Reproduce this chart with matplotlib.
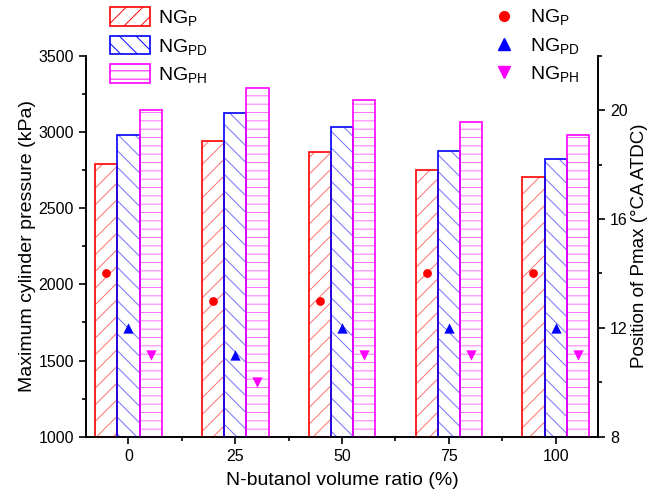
import matplotlib
matplotlib.use('Agg')
import matplotlib.pyplot as plt
from matplotlib.patches import Patch
from matplotlib.lines import Line2D
from matplotlib.ticker import MultipleLocator
import numpy as np

plt.rcParams['font.family'] = ['Liberation Sans', 'DejaVu Sans']
plt.rcParams['mathtext.default'] = 'regular'
plt.rcParams['hatch.linewidth'] = 0.7

# data
ratios = [0, 25, 50, 75, 100]
labels = ['NG$_{P}$', 'NG$_{PD}$', 'NG$_{PH}$']
pmax_p = [2790, 2940, 2865, 2750, 2705]
pmax_pd = [2980, 3125, 3035, 2875, 2820]
pmax_ph = [3145, 3285, 3210, 3065, 2980]
pos_p = [14, 13, 13, 14, 14]
pos_pd = [12, 11, 12, 12, 12]
pos_ph = [11, 10, 11, 11, 11]

edge_colors = ['#ff0000', '#0000ff', '#ff00ff']
hatch_colors = ['#ff7070', '#7070ff', '#ff70ff']
hatches = ['//', '\\\\', '--']
markers = ['o', '^', 'v']
msizes = [40, 55, 55]

fig = plt.figure(figsize=(6.49, 5.01), dpi=100)
ax = fig.add_axes([0.132, 0.128, 0.790, 0.761])
ax2 = ax.twinx()

x = np.array(ratios, dtype=float)
w = 5.2
offsets = [-w, 0, w]
bar_sets = [pmax_p, pmax_pd, pmax_ph]

# hatched fill first, then a solid outline on top
for vals, off, ec, hc, h in zip(bar_sets, offsets, edge_colors, hatch_colors, hatches):
    ax.bar(x + off, np.array(vals) - 1000, width=w, bottom=1000, color='white',
           edgecolor=hc, hatch=h, linewidth=0, zorder=2)
    ax.bar(x + off, np.array(vals) - 1000, width=w, bottom=1000, fill=False,
           edgecolor=ec, linewidth=1.2, zorder=3)

for vals, off, ec, m, s in zip([pos_p, pos_pd, pos_ph], offsets, edge_colors, markers, msizes):
    ax2.scatter(x + off, vals, marker=m, s=s, color=ec, zorder=5, linewidths=0)

ax.set_xlim(-10, 110)
ax.set_ylim(1000, 3500)
ax2.set_ylim(8, 22)
ax.set_xticks(ratios)
ax.xaxis.set_minor_locator(MultipleLocator(12.5))
ax.yaxis.set_major_locator(MultipleLocator(500))
ax.yaxis.set_minor_locator(MultipleLocator(250))
ax2.yaxis.set_major_locator(MultipleLocator(4))
ax2.yaxis.set_minor_locator(MultipleLocator(2))

for a in (ax, ax2):
    a.spines['top'].set_visible(False)
    for sp in a.spines.values():
        sp.set_linewidth(1.2)
    a.tick_params(which='major', direction='out', length=5, width=1.2, labelsize=11.5)
    a.tick_params(which='minor', direction='out', length=3, width=1.2)

ax.set_xlabel('N-butanol volume ratio (%)', fontsize=14, labelpad=6)
ax.set_ylabel('Maximum cylinder pressure (kPa)', fontsize=14, labelpad=2)
ax2.set_ylabel('Position of Pmax (°CA ATDC)', fontsize=13.5, labelpad=2)

bar_handles = [Patch(facecolor='white', edgecolor=ec, hatch=h, linewidth=1.2)
               for ec, h in zip(edge_colors, hatches)]
leg1 = ax2.legend(bar_handles, labels, loc='upper left', bbox_to_anchor=(0.142, 1.02),
                  bbox_transform=fig.transFigure, frameon=False, fontsize=14,
                  handlelength=2.1, handleheight=1.1, handletextpad=0.4, labelspacing=0.38)
ax2.add_artist(leg1)

pt_handles = [Line2D([], [], linestyle='none', marker=m, color=ec, markersize=7 if m == 'o' else 8)
              for ec, m in zip(edge_colors, markers)]
ax2.legend(pt_handles, labels, loc='upper left', bbox_to_anchor=(0.727, 1.02),
           bbox_transform=fig.transFigure, frameon=False, fontsize=14,
           handlelength=1.5, handletextpad=0.6, labelspacing=0.42)

fig.savefig('out.png', dpi=100)
